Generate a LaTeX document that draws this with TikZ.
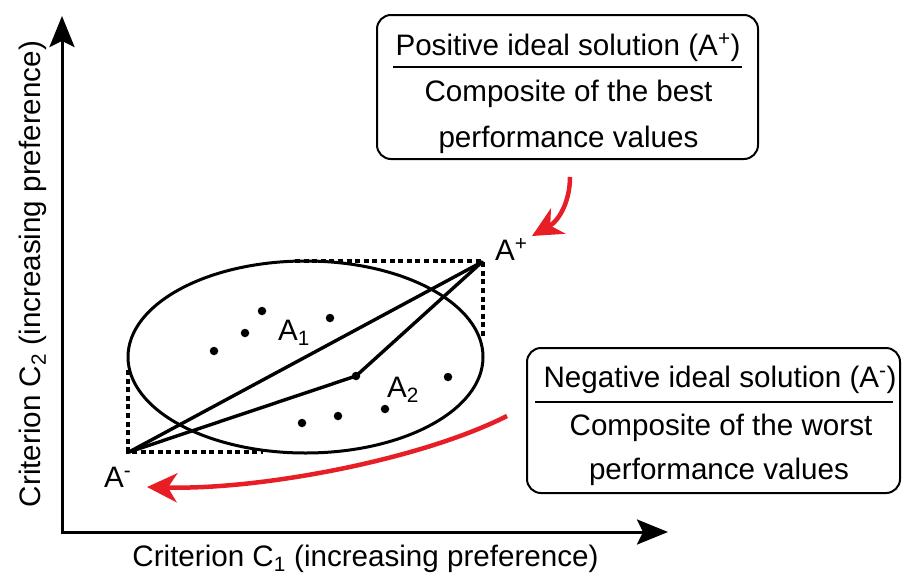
\documentclass[tikz,border=0pt]{standalone}
\usepackage{fontspec}
\setmainfont{Liberation Sans}
\usetikzlibrary{arrows.meta}
\definecolor{arrred}{RGB}{232,30,38}
\begin{document}
\begin{tikzpicture}[x=1pt,y=-1pt,
  every node/.style={font=\fontsize{29.6}{34}\selectfont, inner sep=0pt},
  axis/.style={line width=3pt, line join=miter, {Stealth[length=31pt,width=25pt,inset=6pt]}-{Stealth[length=31pt,width=25pt,inset=6pt]}},
  conn/.style={line width=3.4pt, line join=round, line cap=round},
  dotline/.style={line width=3.6pt, dash pattern=on 5pt off 3.6pt},
  redarrow/.style={draw=arrred, line width=4.5pt, -{Stealth[length=30pt,width=29pt,inset=9pt]}},
  infobox/.style={draw, line width=2pt, rounded corners=14pt},
  rulebar/.style={line width=2.2pt},
  pt/.style={circle, fill, minimum size=8.5pt, inner sep=0pt},
  lbl/.style={anchor=base}
]
\useasboundingbox (0,0) rectangle (905,576);

% axes
\coordinate (ytip) at (62,16);
\coordinate (O) at (62,532);
\coordinate (xtip) at (668,532);
\draw[axis] (ytip) -- (O) -- (xtip);
\node[lbl] (xlab) at (365.5,566) {Criterion C\textsubscript{1} (increasing preference)};
\node[lbl, rotate=90] (ylab) at (40,274) {Criterion C\textsubscript{2} (increasing preference)};

% dotted rectangle parts
\coordinate (Ap) at (482,262);
\coordinate (Am) at (129,452);
\draw[dotline] (295,261) -- (483,261) -- (483,338);
\draw[dotline] (128,370) -- (128,452) -- (263,452);

% ellipse
\draw[line width=3pt] (305.5,357) ellipse [x radius=177.5pt, y radius=96pt];

% points
\node[pt] (p1) at (262,311) {};
\node[pt] (p2) at (245,333) {};
\node[pt] (p3) at (214,351) {};
\node[pt] (p4) at (330,318) {};
\node[pt] (C)  at (356,376) {};
\node[pt] (p5) at (448,377) {};
\node[pt] (p6) at (385,409) {};
\node[pt] (p7) at (338,416) {};
\node[pt] (p8) at (302,423) {};

% connectors
\draw[conn] (Am) -- (Ap);
\draw[conn] (Am) -- (C.center) -- (Ap);

% labels
\node[lbl, anchor=base west] (lA1) at (278,340) {A\textsubscript{1}};
\node[lbl, anchor=base west] (lA2) at (387,397) {A\textsubscript{2}};
\node[lbl, anchor=base west] (lAp) at (495,260) {A\textsuperscript{+}};
\node[lbl, anchor=base west] (lAm) at (104,487) {A\textsuperscript{-}};

% box 1
\node[infobox, minimum width=381pt, minimum height=144pt] (b1) at (567.5,87) {};
\node[lbl] (b1a) at (568,55) {Positive ideal solution (A\textsuperscript{+})};
\node[lbl] (b1b) at (568.5,101) {Composite of the best};
\node[lbl] (b1c) at (568.5,147) {performance values};
\draw[rulebar] (393,67) -- (742,67);

% box 2
\node[infobox, minimum width=373pt, minimum height=145pt] (b2) at (713.5,420.5) {};
\node[lbl] (b2a) at (720,387) {Negative ideal solution (A\textsuperscript{-})};
\node[lbl] (b2b) at (721,435) {Composite of the worst};
\node[lbl] (b2c) at (719,479) {performance values};
\draw[rulebar] (535,402) -- (893,402);

% red arrows
\coordinate (r1s) at (570,177);
\coordinate (r1e) at (532,236);
\coordinate (r2s) at (507,416);
\coordinate (r2e) at (147,487);
\draw[redarrow] (r1s) .. controls (570,200) and (560,220) .. (r1e);
\draw[redarrow] (r2s) .. controls (420,460) and (260,490) .. (r2e);
\end{tikzpicture}
\end{document}
